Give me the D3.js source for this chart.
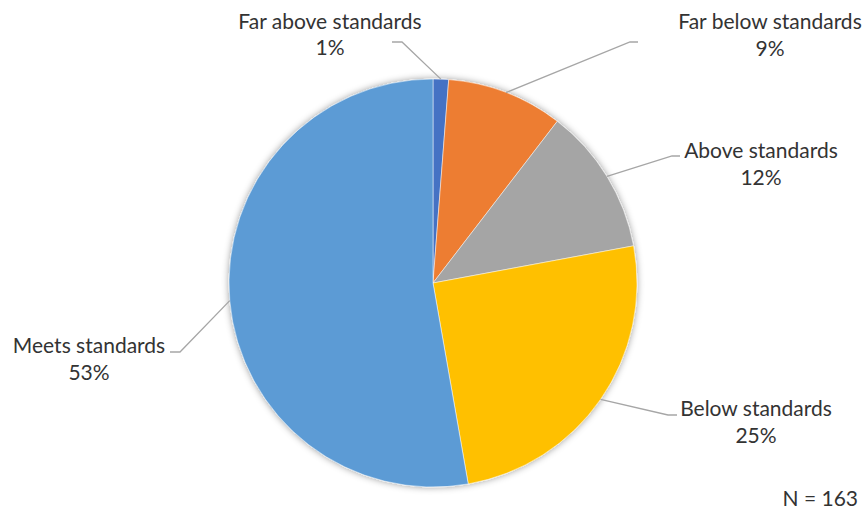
<!DOCTYPE html>
<html>
<head>
<meta charset="utf-8">
<script src="https://cdn.jsdelivr.net/npm/d3@7"></script>
<style>
  html, body { margin: 0; padding: 0; background: #fff; }
  svg { display: block; }
  text { font-family: Lato, 'Open Sans', sans-serif; fill: #333; }
</style>
</head>
<body>
<svg id="chart"></svg>
<script>
'use strict';
// data (N = 163)
const CATEGORIES = ['Far above standards', 'Far below standards', 'Above standards', 'Below standards', 'Meets standards'];
const COUNTS = [2, 15, 19, 41, 86];
const COLORS = ['#4472c4', '#ed7d31', '#a5a5a5', '#ffc000', '#5b9bd5'];
const N_LABEL = 'N = 163';

// where each label sits, and the elbow of its leader line
const LABEL_POS = [
  { x: 330, y: 21.5, elbow: [402, 42], end: [392, 42] },
  { x: 770, y: 22, elbow: [630, 42], end: [638, 42] },
  { x: 761, y: 151, elbow: [672, 156], end: [680, 156] },
  { x: 756, y: 409, elbow: [668, 415], end: [677, 415] },
  { x: 89, y: 346, elbow: [180, 352], end: [170, 352] },
];
const LINE_GAP = 26.5;

const width = 866, height = 511;
const cx = 433, cy = 283, radius = 204;
const FONT_SIZE = 21;

const svg = d3.select('#chart').attr('width', width).attr('height', height);

const defs = svg.append('defs');
const shadow = defs.append('filter').attr('id', 'shadow')
  .attr('x', '-20%').attr('y', '-20%').attr('width', '140%').attr('height', '140%');
shadow.append('feDropShadow')
  .attr('dx', 0).attr('dy', 0).attr('stdDeviation', 3.5)
  .attr('flood-color', '#000').attr('flood-opacity', 0.4);

const data = CATEGORIES.map((c, i) => ({ name: c, value: COUNTS[i], color: COLORS[i] }));
const total = d3.sum(COUNTS);

const pie = d3.pie().sort(null).value((d) => d.value);
const arcs = pie(data);
const arc = d3.arc().innerRadius(0).outerRadius(radius);

const g = svg.append('g').attr('transform', `translate(${cx},${cy})`);

g.append('g')
  .attr('filter', 'url(#shadow)')
  .selectAll('path')
  .data(arcs)
  .enter()
  .append('path')
  .attr('d', arc)
  .attr('fill', (d) => d.data.color)
  .attr('stroke', '#fff')
  .attr('stroke-width', 0.5);

// leader lines
const edge = d3.arc().innerRadius(radius).outerRadius(radius);
svg.append('g')
  .selectAll('polyline')
  .data(arcs)
  .enter()
  .append('polyline')
  .attr('points', (d, i) => {
    const [px, py] = edge.centroid(d);
    const p = LABEL_POS[i];
    return [[cx + px, cy + py], p.elbow, p.end].map((q) => q.join(',')).join(' ');
  })
  .attr('fill', 'none')
  .attr('stroke', '#a6a6a6')
  .attr('stroke-width', 1.3);

// labels
const labels = svg.append('g')
  .selectAll('text')
  .data(arcs)
  .enter()
  .append('text')
  .attr('text-anchor', 'middle')
  .attr('font-size', FONT_SIZE);

labels.append('tspan')
  .attr('x', (d, i) => LABEL_POS[i].x)
  .attr('y', (d, i) => LABEL_POS[i].y)
  .attr('dy', '0.35em')
  .text((d) => d.data.name);

labels.append('tspan')
  .attr('x', (d, i) => LABEL_POS[i].x)
  .attr('y', (d, i) => LABEL_POS[i].y + LINE_GAP)
  .attr('dy', '0.35em')
  .text((d) => Math.round((d.data.value / total) * 100) + '%');

svg.append('text')
  .attr('x', 858)
  .attr('y', 499)
  .attr('dy', '0.35em')
  .attr('text-anchor', 'end')
  .attr('font-size', FONT_SIZE)
  .text(N_LABEL);
</script>
</body>
</html>
